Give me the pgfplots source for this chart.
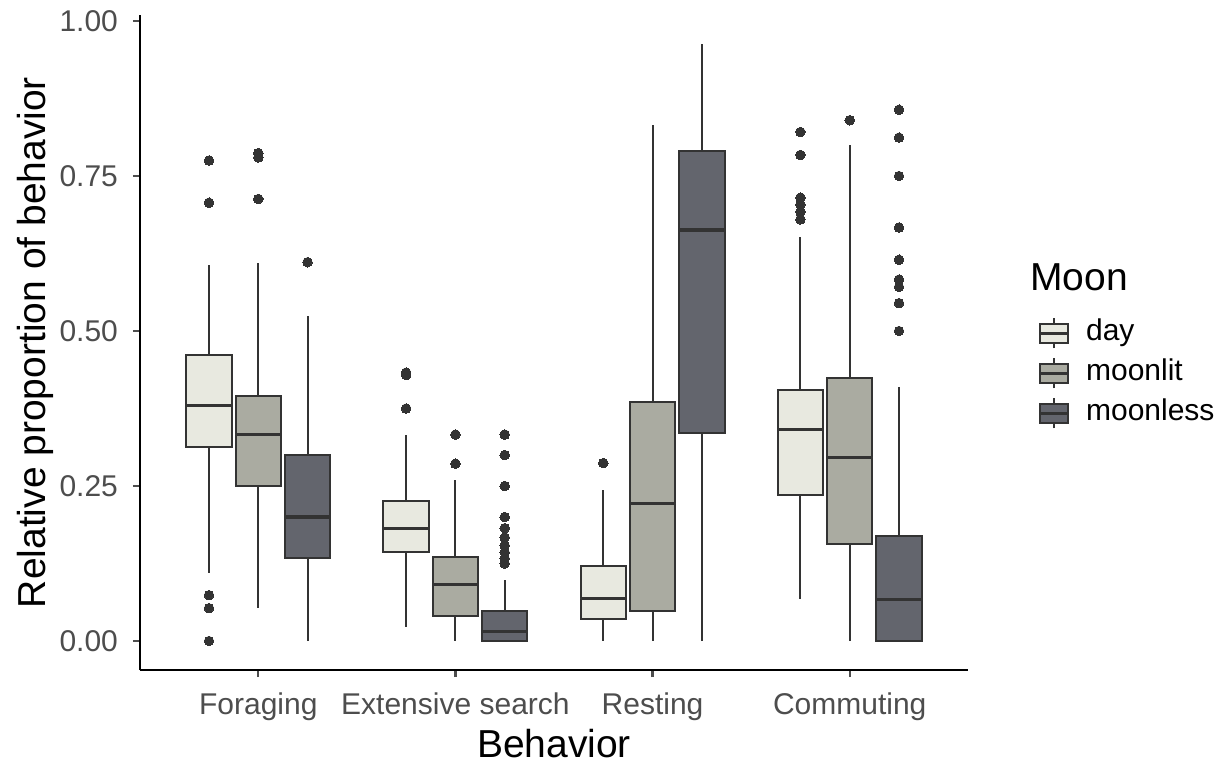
\documentclass[border=0pt]{standalone}
\usepackage{pgfplots}
\pgfplotsset{compat=1.18}
\usepgfplotslibrary{statistics}
\usepackage{fontspec}
\setmainfont{Liberation Sans}
\definecolor{dayc}{HTML}{E8E9E0}
\definecolor{litc}{HTML}{AAABA1}
\definecolor{lessc}{HTML}{63656D}
\definecolor{edgec}{HTML}{333333}
\definecolor{tickc}{HTML}{4D4D4D}
\pgfplotsset{
  bx/.style={draw=edgec, line width=1pt, mark=*, mark size=2.4pt,
    mark options={draw=edgec, fill=edgec, line width=0pt}, forget plot},
  dayb/.style={bx, fill=dayc},
  litb/.style={bx, fill=litc},
  lessb/.style={bx, fill=lessc},
}
\newcommand{\keyimg}[1]{%
  \draw[draw=edgec, line width=1pt] (7pt,-7.5pt) -- (7pt,7.5pt);
  \draw[draw=edgec, fill=#1, line width=1pt] (0pt,-4.75pt) rectangle (14pt,4.75pt);
  \draw[draw=edgec, line width=1.5pt] (0pt,0pt) -- (14pt,0pt);}
\begin{document}
\begin{tikzpicture}
\begin{axis}[
  scale only axis, width=414pt, height=327.5pt,
  xmin=0.4, xmax=4.6, ymin=-0.04677, ymax=1.0097,
  axis x line*=bottom, axis y line*=left,
  axis line style={line width=1.2pt, black},
  tick align=outside, major tick length=3.5pt,
  tick style={line width=1.2pt, tickc},
  xtick={1,2,3,4},
  xticklabels={Foraging,Extensive search,Resting,Commuting},
  ytick={0,0.25,0.5,0.75,1},
  ticklabel style={font=\fontsize{15}{18}\selectfont, text=tickc},
  xticklabel style={yshift=-4.5pt},
  yticklabel style={xshift=-4pt, /pgf/number format/.cd, fixed, fixed zerofill, precision=2, assume math mode=true},
  xlabel={Behavior}, ylabel={Relative proportion of behavior},
  every axis x label/.style={at={(rel axis cs:0.5,-0.113)}, anchor=center, font=\fontsize{19.5}{23}\selectfont},
  every axis y label/.style={at={(rel axis cs:-0.1268,0.5)}, rotate=90, anchor=center, font=\fontsize{19.5}{23}\selectfont},
  boxplot/draw direction=y,
  boxplot/box extend=0.23, boxplot/whisker extend=0,
  boxplot/every median/.style={line width=1.6pt},
  boxplot/every whisker/.style={line width=1pt},
  clip=false,
  legend style={at={(rel axis cs:1.0769,0.545)}, anchor=north west, draw=none, fill=none,
    font=\fontsize{15}{18}\selectfont, row sep=4pt, column sep=0pt,
    nodes={inner sep=0pt, text height=11pt, text depth=3.5pt}},
  legend cell align=left,
]
% Foraging
\addplot[dayb, boxplot prepared={draw position=0.75, lower whisker=0.109, lower quartile=0.313, median=0.380, upper quartile=0.462, upper whisker=0.606}]
  table[row sep=\\, y index=0] {d\\ 0.775\\ 0.707\\ 0.074\\ 0.053\\ 0.000\\};
\addplot[litb, boxplot prepared={draw position=1.0, lower whisker=0.053, lower quartile=0.250, median=0.333, upper quartile=0.396, upper whisker=0.609}]
  table[row sep=\\, y index=0] {d\\ 0.787\\ 0.780\\ 0.713\\};
\addplot[lessb, boxplot prepared={draw position=1.25, lower whisker=0.0, lower quartile=0.134, median=0.200, upper quartile=0.300, upper whisker=0.524}]
  table[row sep=\\, y index=0] {d\\ 0.611\\};
% Extensive search
\addplot[dayb, boxplot prepared={draw position=1.75, lower whisker=0.023, lower quartile=0.143, median=0.182, upper quartile=0.226, upper whisker=0.332}]
  table[row sep=\\, y index=0] {d\\ 0.433\\ 0.429\\ 0.375\\};
\addplot[litb, boxplot prepared={draw position=2.0, lower whisker=0.0, lower quartile=0.040, median=0.091, upper quartile=0.135, upper whisker=0.259}]
  table[row sep=\\, y index=0] {d\\ 0.333\\ 0.286\\};
\addplot[lessb, boxplot prepared={draw position=2.25, lower whisker=0.0, lower quartile=0.0, median=0.015, upper quartile=0.048, upper whisker=0.098}]
  table[row sep=\\, y index=0] {d\\ 0.333\\ 0.300\\ 0.250\\ 0.200\\ 0.182\\ 0.167\\ 0.154\\ 0.143\\ 0.133\\ 0.125\\};
% Resting
\addplot[dayb, boxplot prepared={draw position=2.75, lower whisker=0.0, lower quartile=0.035, median=0.069, upper quartile=0.121, upper whisker=0.243}]
  table[row sep=\\, y index=0] {d\\ 0.287\\};
\addplot[litb, boxplot prepared={draw position=3.0, lower whisker=0.0, lower quartile=0.048, median=0.222, upper quartile=0.385, upper whisker=0.832}]
  coordinates {};
\addplot[lessb, boxplot prepared={draw position=3.25, lower whisker=0.0, lower quartile=0.336, median=0.663, upper quartile=0.790, upper whisker=0.963}]
  coordinates {};
% Commuting
\addplot[dayb, boxplot prepared={draw position=3.75, lower whisker=0.067, lower quartile=0.235, median=0.341, upper quartile=0.405, upper whisker=0.651}]
  table[row sep=\\, y index=0] {d\\ 0.821\\ 0.784\\ 0.715\\ 0.704\\ 0.692\\ 0.680\\};
\addplot[litb, boxplot prepared={draw position=4.0, lower whisker=0.0, lower quartile=0.156, median=0.296, upper quartile=0.424, upper whisker=0.800}]
  table[row sep=\\, y index=0] {d\\ 0.840\\};
\addplot[lessb, boxplot prepared={draw position=4.25, lower whisker=0.0, lower quartile=0.0, median=0.067, upper quartile=0.170, upper whisker=0.410}]
  table[row sep=\\, y index=0] {d\\ 0.857\\ 0.812\\ 0.750\\ 0.667\\ 0.615\\ 0.583\\ 0.571\\ 0.545\\ 0.500\\};
% legend
\addlegendimage{legend image code/.code={\keyimg{dayc}}}
\addlegendentry{\hspace{8.5pt}day}
\addlegendimage{legend image code/.code={\keyimg{litc}}}
\addlegendentry{\hspace{8.5pt}moonlit}
\addlegendimage{legend image code/.code={\keyimg{lessc}}}
\addlegendentry{\hspace{8.5pt}moonless}
\node[anchor=base west, inner sep=0pt, font=\fontsize{19.5}{23}\selectfont] at (rel axis cs:1.0749,0.580) {Moon};
\path (rel axis cs:-0.16908,-0.14809) rectangle (rel axis cs:1.31763,1.02290);
\end{axis}
\end{tikzpicture}
\end{document}
